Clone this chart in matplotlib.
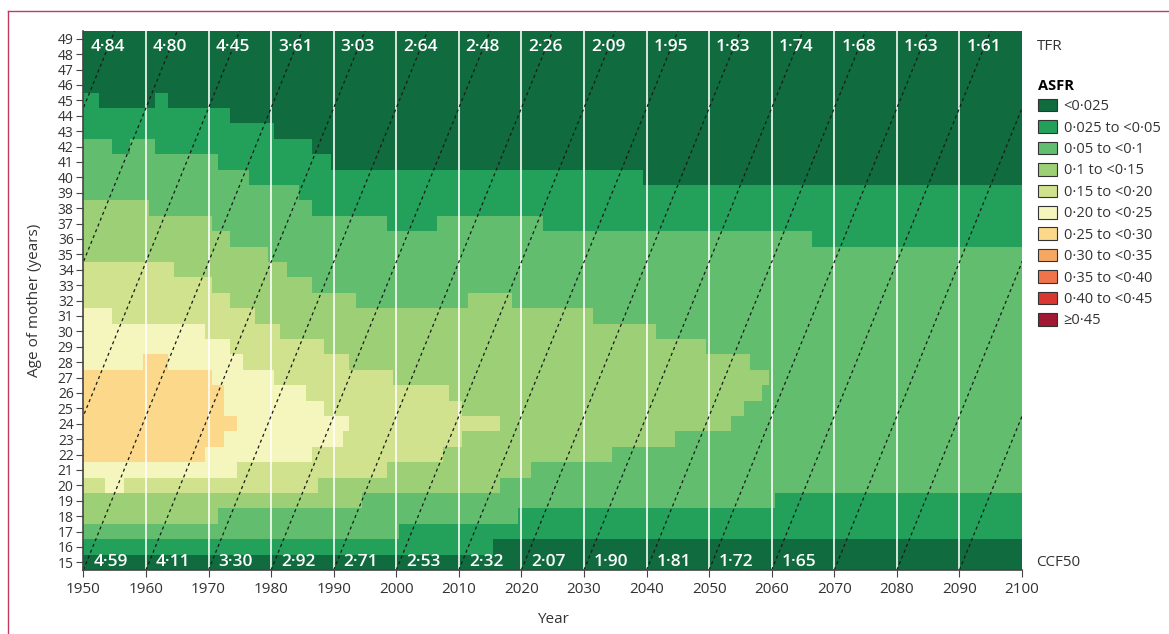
import numpy as np
import matplotlib
matplotlib.use('Agg')
import matplotlib.pyplot as plt
from matplotlib.colors import ListedColormap
from matplotlib.patches import Patch
from matplotlib.lines import Line2D

plt.rcParams['font.family'] = ['Open Sans', 'DejaVu Sans']

years = np.arange(1950, 2101)
ages = np.arange(15, 50)

asfr_labels = ['<0·025', '0·025 to <0·05', '0·05 to <0·1', '0·1 to <0·15', '0·15 to <0·20',
               '0·20 to <0·25', '0·25 to <0·30', '0·30 to <0·35', '0·35 to <0·40',
               '0·40 to <0·45', '≥0·45']
asfr_colors = ['#106b3e', '#23a05a', '#62bd6e', '#9dcf77', '#d0e28d', '#f5f5be',
               '#fcd98a', '#f6a862', '#f0744b', '#da3730', '#a01832']

# each ASFR band (>= class k): first year a value applies, oldest and youngest age in it
# (0 as oldest age = band not present that year)
band1_top_years = [1950, 1953, 1962, 1964, 1974, 1981, 1987, 1990, 2040]
band1_top_ages = [45, 44, 45, 44, 43, 42, 41, 40, 39]
band1_low_years = [1950, 2016]
band1_low_ages = [16, 17]

band2_top_years = [1950, 1955, 1958, 1962, 1972, 1977, 1985, 1987, 1999, 2007, 2024, 2067]
band2_top_ages = [42, 41, 42, 41, 40, 39, 38, 37, 36, 37, 36, 35]
band2_low_years = [1950, 2001, 2020, 2061]
band2_low_ages = [17, 18, 19, 20]

band3_top_years = [1950, 1961, 1971, 1974, 1980, 1983, 1987, 1994, 2012, 2019, 2032, 2042,
                   2050, 2057, 2060]
band3_top_ages = [38, 37, 36, 35, 34, 33, 32, 31, 32, 31, 30, 29, 28, 27, 0]
band3_low_years = [1950, 1972, 1995, 2017, 2022, 2035, 2045, 2054, 2056, 2059]
band3_low_ages = [18, 19, 20, 21, 22, 23, 24, 25, 26, 27]

band4_top_years = [1950, 1965, 1971, 1974, 1978, 1982, 1989, 1993, 2000, 2009, 2011, 2017]
band4_top_ages = [34, 33, 32, 31, 30, 29, 28, 27, 26, 25, 24, 0]
band4_low_years = [1950, 1988, 1999, 2008, 2011]
band4_low_ages = [20, 21, 22, 23, 24]

band5_top_years = [1950, 1955, 1970, 1974, 1976, 1981, 1986, 1989, 1993]
band5_top_ages = [31, 30, 29, 28, 27, 26, 25, 24, 0]
band5_low_years = [1950, 1954, 1957, 1975, 1987, 1992]
band5_low_ages = [21, 20, 21, 22, 23, 24]

band6_top_years = [1950, 1960, 1964, 1971, 1973, 1975]
band6_top_ages = [27, 28, 27, 26, 24, 0]
band6_low_years = [1950, 1970, 1973]
band6_low_ages = [22, 23, 24]

decades = np.arange(1950, 2100, 10)
tfr = [4.84, 4.80, 4.45, 3.61, 3.03, 2.64, 2.48, 2.26, 2.09, 1.95, 1.83, 1.74, 1.68, 1.63, 1.61]
ccf50 = [4.59, 4.11, 3.30, 2.92, 2.71, 2.53, 2.32, 2.07, 1.90, 1.81, 1.72, 1.65]
cohorts = np.arange(1920, 2100, 10)


def step(change_years, values):
    idx = np.searchsorted(change_years, years, side='right') - 1
    return np.array(values)[idx]


bands = [
    (band1_top_years, band1_top_ages, band1_low_years, band1_low_ages),
    (band2_top_years, band2_top_ages, band2_low_years, band2_low_ages),
    (band3_top_years, band3_top_ages, band3_low_years, band3_low_ages),
    (band4_top_years, band4_top_ages, band4_low_years, band4_low_ages),
    (band5_top_years, band5_top_ages, band5_low_years, band5_low_ages),
    (band6_top_years, band6_top_ages, band6_low_years, band6_low_ages),
]

level = np.zeros((len(ages), len(years)))
for ty, ta, ly, la in bands:
    top = step(ty, ta)
    low = step(ly, la)
    level += (ages[:, None] >= low[None, :]) & (ages[:, None] <= top[None, :])


def fmt(v):
    return f'{v:.2f}'.replace('.', '·')


fig = plt.figure(figsize=(11.69, 6.34), dpi=100)
ax = fig.add_axes([0.0713, 0.1009, 0.8030, 0.8502])

x_edges = np.append(years - 0.5, years[-1] + 0.5)
y_edges = np.append(ages - 0.5, ages[-1] + 0.5)
ax.pcolormesh(x_edges, y_edges, level, cmap=ListedColormap(asfr_colors),
              vmin=-0.5, vmax=10.5)

for d in decades[1:]:
    ax.axvline(d, color='white', lw=1.3, alpha=0.9)

for c in cohorts:
    ax.plot([c, c + 35], [14.5, 49.5], color='#1a1a1a', lw=0.9, ls=(0, (2.5, 2.5)))

for d, v in zip(decades, tfr):
    ax.text(d + 1.1, 48.45, fmt(v), color='white', fontsize=12.5, fontweight='semibold',
            ha='left', va='center')
for d, v in zip(decades, ccf50):
    ax.text(d + 1.6, 15.0, fmt(v), color='white', fontsize=12.5, fontweight='semibold',
            ha='left', va='center')

ax.text(2102.3, 48.5, 'TFR', fontsize=11, color='#333333', ha='left', va='center', clip_on=False)
ax.text(2102.3, 15.0, 'CCF50', fontsize=11, color='#333333', ha='left', va='center', clip_on=False)

ax.set_xlim(1950, 2100)
ax.set_ylim(14.5, 49.5)
ax.set_xticks(np.arange(1950, 2101, 10))
ax.set_yticks(ages)
ax.tick_params(axis='x', labelsize=11, length=5, color='#444444', labelcolor='#333333')
ax.tick_params(axis='y', labelsize=10, length=5, color='#444444', labelcolor='#333333', pad=2)
for s in ['top', 'right']:
    ax.spines[s].set_visible(False)
for s in ['left', 'bottom']:
    ax.spines[s].set_color('#444444')
    ax.spines[s].set_linewidth(1.2)
ax.set_xlabel('Year', fontsize=11, color='#333333', labelpad=11)
ax.set_ylabel('Age of mother (years)', fontsize=11, color='#333333', labelpad=11)

handles = [Patch(facecolor=c, edgecolor='#333333', lw=0.8) for c in asfr_colors]
leg = fig.legend(handles, asfr_labels, loc='upper left', bbox_to_anchor=(0.883, 0.885),
                 frameon=False, fontsize=10.5, title='ASFR',
                 title_fontproperties={'weight': 'bold', 'size': 10.5},
                 handlelength=1.3, handleheight=0.95, labelspacing=0.42,
                 handletextpad=0.45, borderaxespad=0, alignment='left')
for t in leg.get_texts():
    t.set_color('#333333')

# page frame in the source figure
fig.add_artist(Line2D([0.0068, 0.0068], [0.0, 0.982], color='#c23a5e', lw=1.0,
                      transform=fig.transFigure))
fig.add_artist(Line2D([0.0068, 1.0], [0.982, 0.982], color='#c23a5e', lw=1.0,
                      transform=fig.transFigure))

fig.savefig('out.png', dpi=100)
